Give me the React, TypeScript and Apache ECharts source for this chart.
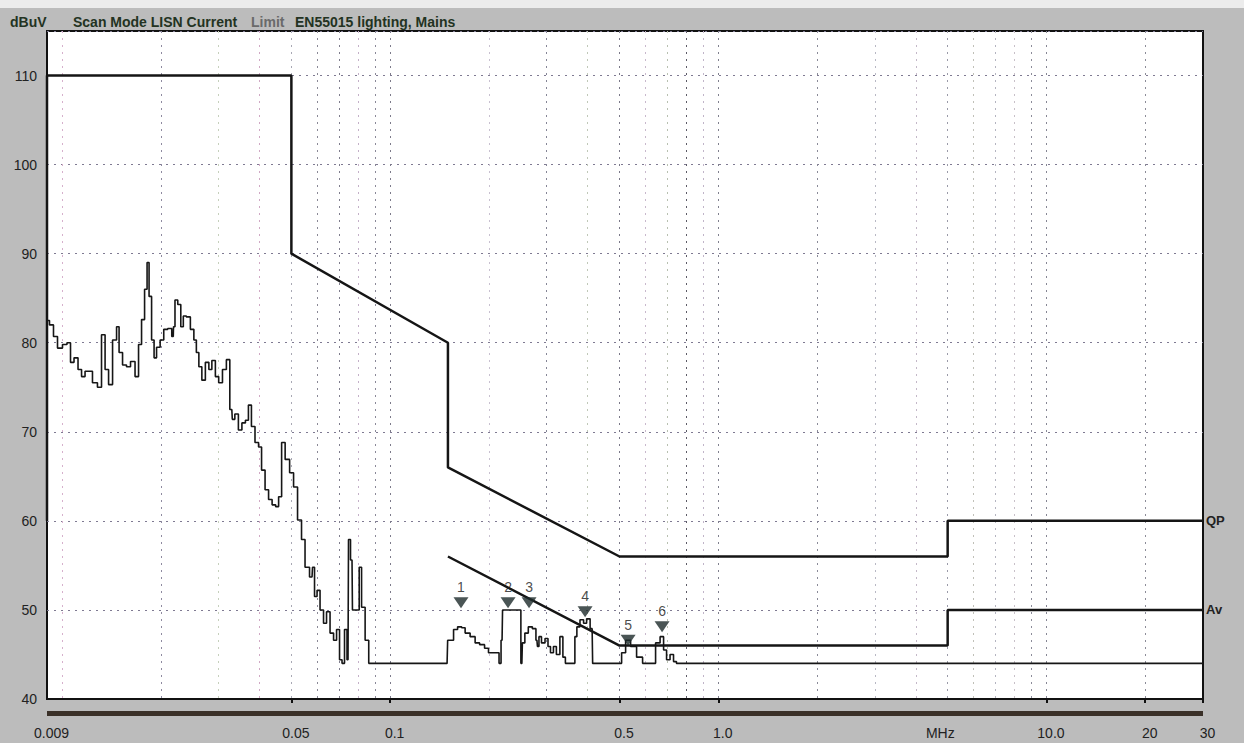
import React, { useEffect, useRef } from 'react';
import * as echarts from 'echarts';

// ---- data ----
const X_MIN = 0.009;
const X_MAX = 30;
const Y_MIN = 40;
const Y_MAX = 115;

const TRACE_FREQ = [
  0.009, 0.00932, 0.00952, 0.00986, 0.01021, 0.0105, 0.01073, 0.01103, 0.01135, 0.01159,
  0.01192, 0.01217, 0.0126, 0.01305, 0.01334, 0.01372, 0.01401, 0.01451, 0.01482, 0.01503,
  0.01556, 0.01589, 0.01646, 0.01693, 0.01729, 0.01766, 0.01804, 0.01829, 0.01855, 0.01895,
  0.01921, 0.01962, 0.0202, 0.02064, 0.02137, 0.02183, 0.0219, 0.02229, 0.02277, 0.02326,
  0.02359, 0.02427, 0.02496, 0.02549, 0.02585, 0.0264, 0.02696, 0.02773, 0.02832, 0.02892,
  0.02975, 0.0303, 0.03137, 0.03201, 0.03292, 0.03315, 0.03411, 0.03484, 0.03584, 0.0366,
  0.03738, 0.03818, 0.0393, 0.04014, 0.04099, 0.04216, 0.04306, 0.0443, 0.04524, 0.0462,
  0.04719, 0.04854, 0.05025, 0.05131, 0.05313, 0.05426, 0.05581, 0.0578, 0.0582, 0.05945,
  0.0603, 0.062, 0.06332, 0.06467, 0.06652, 0.06794, 0.06938, 0.07084, 0.07184, 0.07336,
  0.0744, 0.07492, 0.07652, 0.077, 0.08, 0.08096, 0.0827, 0.0851, 0.087, 0.1491,
  0.1503, 0.1544, 0.1577, 0.1634, 0.1669, 0.1716, 0.179, 0.1841, 0.1907, 0.1973,
  0.2015, 0.2132, 0.2162, 0.2193, 0.2208, 0.2485, 0.252, 0.2538, 0.2609, 0.2664,
  0.2762, 0.2801, 0.2821, 0.2861, 0.2923, 0.3006, 0.3048, 0.3113, 0.3177, 0.3244,
  0.3337, 0.3384, 0.3456, 0.363, 0.3681, 0.3733, 0.3845, 0.3927, 0.4011, 0.4126,
  0.4155, 0.5021, 0.5128, 0.5311, 0.55, 0.5776, 0.5983, 0.6328, 0.6554, 0.6741,
  0.6884, 0.7029, 0.7228, 0.7381, 0.753, 30,
];
const TRACE_LEVEL = [
  82.5, 82, 80.7, 79.4, 79.8, 80, 77.8, 78.3, 77, 76.2,
  76.8, 76.8, 75.5, 75, 80.9, 77, 75.3, 80.3, 81.8, 78.9,
  77.5, 77.3, 77.9, 76.2, 79.8, 82.6, 86, 89, 85.2, 80.3,
  78.3, 79.5, 80.3, 81.5, 81.6, 80.7, 81.8, 84.8, 84.3, 81.8,
  83, 82.9, 81.5, 80.3, 78.9, 77.3, 75.8, 77.8, 77, 78,
  76.2, 75.5, 77, 78.1, 72.5, 71.4, 72, 70.2, 71, 71.3,
  73, 70.6, 68.8, 68.3, 65.7, 63.5, 62.4, 61.8, 61.6, 62.7,
  68.8, 66.9, 65.4, 63.8, 60.1, 57.9, 54.8, 53.7, 54.8, 51.5,
  52.2, 50, 48.5, 49.8, 47.4, 46.6, 47.8, 44.4, 44, 47.8,
  44.4, 57.9, 55.6, 50, 50, 54.8, 50.3, 46.6, 44, 44,
  46.6, 46.6, 47.8, 48.1, 48, 47.4, 47, 46.3, 46.1, 45.7,
  45.2, 45.2, 44, 46.6, 50, 50, 44, 46.3, 47.4, 48.1,
  47.9, 46.6, 45.9, 47, 46.3, 46.8, 45.9, 45.2, 45.9, 45,
  47, 44.7, 44, 44, 47, 48.1, 48.9, 48.5, 49, 47.9,
  44, 44, 45.2, 46.6, 45.9, 44.7, 44, 44, 46.3, 47,
  45.5, 44.4, 45, 44.2, 44, 44,
];

const QP_FREQ = [0.009, 0.009, 0.05, 0.05, 0.15, 0.15, 0.5, 5, 5, 30];
const QP_LEVEL = [60, 110, 110, 90, 80, 66, 56, 56, 60, 60];
const AV_FREQ = [0.15, 0.5, 5, 5, 30];
const AV_LEVEL = [56, 46, 46, 50, 50];

const MARKER_FREQ = [0.1644, 0.2287, 0.265, 0.3927, 0.531, 0.674];
const MARKER_LEVEL = [50.8, 50.8, 50.8, 49.8, 46.6, 48.1];
const MARKER_LABELS = ['1', '2', '3', '4', '5', '6'];

const LABEL_FREQS = [0.009, 0.05, 0.1, 0.5, 1, 4.6, 10, 20, 30];
const LABEL_TEXTS = ['0.009', '0.05', '0.1', '0.5', '1.0', 'MHz', '10.0', '20', '30'];
const TICK_FREQS = [0.05, 0.1, 0.5, 1, 10, 20, 30];
const GRID_FREQS = [
  0.01, 0.02, 0.03, 0.04, 0.05, 0.06, 0.07, 0.08, 0.09,
  0.1, 0.2, 0.3, 0.4, 0.5, 0.6, 0.7, 0.8, 0.9,
  1, 2, 3, 4, 5, 6, 7, 8, 9, 10, 20,
];
const GRID_COLORS = [
  '#d6b0cc', '#8e8aa0', '#c6d0bc', '#d0a8c4', '#a8a8b4', '#8a8896', '#7e7c8c', '#c4b0c8', '#8a8898',
  '#7c7a8a', '#c8c0d0', '#858596', '#c0c8b8', '#7a7888', '#c8b8cc', '#b8c0b0', '#5c5a66', '#c0b4c8',
  '#80808e', '#8a8a98', '#b8b8c4', '#c4b8c8', '#9a9aa8', '#c0c0b8', '#b4b4c0', '#c8c0c8', '#8c8c9a',
  '#868694', '#8c8c98',
];

const FONT = '"Liberation Sans", Arial, sans-serif';

export default function App() {
  const ref = useRef<HTMLDivElement>(null);

  useEffect(() => {
    if (!ref.current) return;
    const chart = echarts.init(ref.current, undefined, { renderer: 'svg' });
    const lg = (v: number) => Math.log10(v);
    const extMin = lg(X_MIN);
    const extMax = lg(X_MAX);
    const labelLogs = LABEL_FREQS.map(lg);

    const zip = (a: number[], b: number[]) => a.map((v, i) => [v, b[i]]);

    const option: any = {
      animation: false,
      backgroundColor: '#bcbcbc',
      textStyle: { fontFamily: FONT },
      grid: {
        left: 47,
        right: 41,
        top: 31,
        bottom: 44,
        show: true,
        backgroundColor: '#ffffff',
        borderColor: '#111111',
        borderWidth: 2,
      },
      xAxis: [
        {
          type: 'log',
          logBase: 10,
          min: X_MIN,
          max: X_MAX,
          axisLine: { show: false },
          axisTick: { show: false },
          axisLabel: { show: false },
          splitLine: { show: false },
        },
        {
          type: 'value',
          min: extMin,
          max: extMax,
          position: 'bottom',
          axisLine: { show: false },
          axisTick: { show: false, customValues: GRID_FREQS.map(lg) },
          axisLabel: { show: false },
          splitLine: {
            show: true,
            lineStyle: { color: GRID_COLORS, type: [2, 5], width: 1 },
          },
        },
        {
          type: 'value',
          min: extMin,
          max: extMax,
          position: 'bottom',
          axisLine: { show: true, lineStyle: { color: '#111111', width: 2 } },
          axisTick: {
            show: true,
            customValues: TICK_FREQS.map(lg),
            length: 4,
            lineStyle: { color: '#111111', width: 2 },
          },
          axisLabel: {
            show: true,
            customValues: labelLogs,
            hideOverlap: false,
            showMinLabel: true,
            showMaxLabel: true,
            margin: 27,
            fontSize: 14,
            color: '#222222',
            fontFamily: FONT,
            padding: [0, 0, 0, 9],
            formatter: (v: number) => {
              let best = 0;
              let bd = Infinity;
              labelLogs.forEach((l, i) => {
                const d = Math.abs(l - v);
                if (d < bd) {
                  bd = d;
                  best = i;
                }
              });
              return LABEL_TEXTS[best];
            },
          },
          splitLine: { show: false },
        },
      ],
      yAxis: {
        type: 'value',
        min: Y_MIN,
        max: Y_MAX,
        interval: 10,
        axisLine: { show: false },
        axisTick: { show: false },
        axisLabel: {
          showMaxLabel: false,
          fontSize: 14,
          color: '#222222',
          margin: 10,
          fontFamily: FONT,
        },
        splitLine: { lineStyle: { color: '#7f7a92', type: [2, 5], width: 1 } },
      },
      series: [
        {
          name: 'trace',
          type: 'line',
          xAxisIndex: 0,
          data: zip(TRACE_FREQ, TRACE_LEVEL),
          showSymbol: false,
          step: 'middle',
          lineStyle: { color: '#161616', width: 1.6 },
          z: 3,
        },
        {
          name: 'QP',
          type: 'line',
          xAxisIndex: 0,
          data: zip(QP_FREQ, QP_LEVEL),
          showSymbol: false,
          lineStyle: { color: '#151515', width: 2.5 },
          endLabel: {
            show: true,
            formatter: 'QP',
            fontSize: 13,
            fontWeight: 'bold',
            color: '#222222',
            distance: 3,
            fontFamily: FONT,
          },
          z: 4,
        },
        {
          name: 'Av',
          type: 'line',
          xAxisIndex: 0,
          data: zip(AV_FREQ, AV_LEVEL),
          showSymbol: false,
          lineStyle: { color: '#151515', width: 2.5 },
          endLabel: {
            show: true,
            formatter: 'Av',
            fontSize: 13,
            fontWeight: 'bold',
            color: '#222222',
            distance: 3,
            fontFamily: FONT,
          },
          z: 4,
        },
        {
          name: 'markers',
          type: 'scatter',
          xAxisIndex: 0,
          data: zip(MARKER_FREQ, MARKER_LEVEL),
          symbol: 'triangle',
          symbolRotate: 180,
          symbolSize: [15, 11],
          itemStyle: { color: '#1d2b2b' },
          label: {
            show: true,
            position: 'top',
            distance: 3,
            fontSize: 14,
            color: '#1a1a1a',
            textBorderWidth: 0,
            fontFamily: FONT,
            formatter: (p: any) => MARKER_LABELS[p.dataIndex],
          },
          z: 5,
        },
      ],
      graphic: [
        {
          type: 'rect',
          shape: { x: 0, y: 0, width: 1244, height: 8 },
          style: { fill: '#ececec' },
          silent: true,
        },
        {
          type: 'rect',
          shape: { x: 47, y: 711, width: 1156, height: 5 },
          style: { fill: '#3a3028' },
          silent: true,
        },
        {
          type: 'text',
          x: 10,
          y: 22,
          style: { text: 'dBuV', fill: '#233322', fontSize: 14, fontWeight: 'bold', fontFamily: FONT, verticalAlign: 'middle' },
        },
        {
          type: 'text',
          x: 73,
          y: 22,
          style: {
            text: 'Scan Mode LISN Current',
            fill: '#233322',
            fontSize: 14,
            fontWeight: 'bold',
            fontFamily: FONT,
            verticalAlign: 'middle',
          },
        },
        {
          type: 'text',
          x: 251,
          y: 22,
          style: { text: 'Limit', fill: '#6a6a6a', fontSize: 14, fontWeight: 'bold', fontFamily: FONT, verticalAlign: 'middle' },
        },
        {
          type: 'text',
          x: 295,
          y: 22,
          style: {
            text: 'EN55015 lighting, Mains',
            fill: '#233322',
            fontSize: 14,
            fontWeight: 'bold',
            fontFamily: FONT,
            verticalAlign: 'middle',
          },
        },
      ],
    };

    chart.setOption(option);
    return () => {
      chart.dispose();
    };
  }, []);

  return (
    <div
      ref={ref}
      style={{ position: 'fixed', left: 0, top: 0, width: 1244, height: 743 }}
    />
  );
}
